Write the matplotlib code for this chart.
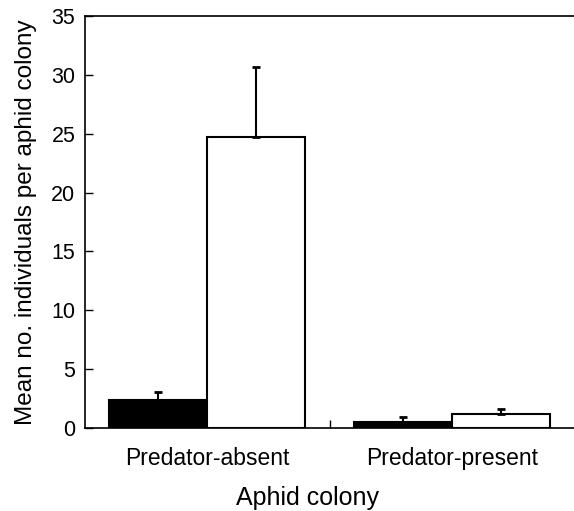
import matplotlib
matplotlib.use("Agg")
import matplotlib.pyplot as plt
import numpy as np

plt.rcParams["font.family"] = ["Liberation Sans", "DejaVu Sans"]

# data
groups = ["Predator-absent", "Predator-present"]
black_means = [2.4, 0.48]
black_err = [0.7, 0.43]
white_means = [24.75, 1.19]
white_err = [5.95, 0.43]
yticks = [0, 5, 10, 15, 20, 25, 30, 35]

fig = plt.figure(figsize=(5.74, 5.11), dpi=100)
ax = fig.add_axes([85 / 574, 1 - 428 / 511, 489 / 574, 412 / 511])

x = np.arange(1, len(groups) + 1)
w = 0.4
ax.bar(x - w / 2, black_means, w, color="black", edgecolor="black", linewidth=1.5, zorder=2)
ax.bar(x + w / 2, white_means, w, color="white", edgecolor="black", linewidth=1.5, zorder=2)
# upper error bars only
ax.errorbar(x - w / 2, black_means, yerr=[np.zeros(len(black_err)), black_err], fmt="none",
            ecolor="black", elinewidth=1.5, capsize=3, capthick=2, zorder=3)
ax.errorbar(x + w / 2, white_means, yerr=[np.zeros(len(white_err)), white_err], fmt="none",
            ecolor="black", elinewidth=1.5, capsize=3, capthick=2, zorder=3)

ax.set_xlim(0.5, 2.5)
ax.set_ylim(0, 35)
ax.set_yticks(yticks)
ax.set_xticks(x)
ax.set_xticklabels(groups, fontsize=16.5)
ax.set_xticks([1.5], minor=True)
ax.tick_params(axis="x", which="major", length=0, pad=14)
ax.tick_params(axis="x", which="minor", direction="in", length=6, width=1)
ax.tick_params(axis="y", direction="in", length=6, width=1, labelsize=15.5, pad=7)
ax.spines["right"].set_visible(False)
for s in ["left", "top", "bottom"]:
    ax.spines[s].set_linewidth(1.2)

ax.set_xlabel("Aphid colony", fontsize=18)
ax.xaxis.set_label_coords(0.456, -0.141)
ax.xaxis.label.set_va("top")
ax.set_ylabel("Mean no. individuals per aphid colony", fontsize=17.5, labelpad=10)

fig.savefig("out.png", dpi=100)
